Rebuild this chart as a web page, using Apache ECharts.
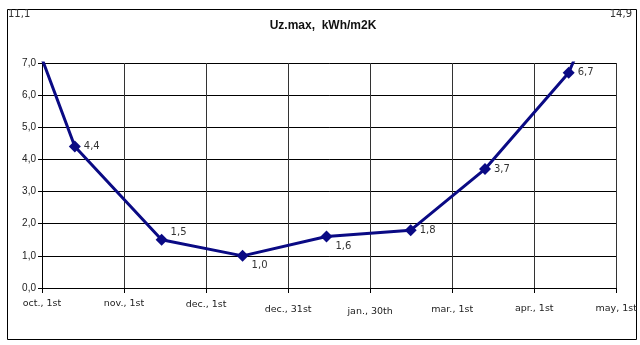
<!DOCTYPE html>
<html>
<head>
<meta charset="utf-8">
<script src="https://cdn.jsdelivr.net/npm/echarts@6/dist/echarts.min.js"></script>
<style>
html,body{margin:0;padding:0;background:#fff;}
#c{width:640px;height:345px;}
</style>
</head>
<body>
<div id="c"></div>
<script>
// Tick labels along the x axis (equally spaced month marks)
var xTickLabels = ['oct., 1st','nov., 1st','dec., 1st','dec., 31st','jan., 30th','mar., 1st','apr., 1st','may, 1st'];
// Point positions, in units of tick intervals from "oct., 1st"
var xPositions = [-0.58, 0.40, 1.458, 2.445, 3.468, 4.494, 5.40, 6.42, 7.8];
// Uz.max values
var uzValues = [11.1, 4.4, 1.5, 1.0, 1.6, 1.8, 3.7, 6.7, 14.9];
var titleText = 'Uz.max,  kWh/m2K';

function fmt(v){ return v.toFixed(1).replace('.', ','); }

// label offsets per point (style only)
var labelOffsets = [[0,0],[0,0],[0,-7],[0,10],[0,10],[0,0],[0,0],[0,0],[0,0]];
// small vertical stagger of x tick labels (style only)
var xLabelDy = [0, 0, 1, 6, 8, 6, 5, 5];

var yMax = 7;
var seriesData = xPositions.map(function(x, i){
  var v = uzValues[i];
  var inside = v <= yMax && x >= 0 && x <= xTickLabels.length - 1;
  return {
    value: [x, v],
    symbol: inside ? 'diamond' : 'none',
    label: {show: inside, offset: labelOffsets[i]}
  };
});

var rich = {};
xLabelDy.forEach(function(d, i){
  rich['r' + i] = {padding: [d, 0, 0, 0], fontFamily: 'DejaVu Sans', fontSize: 9.5, color: '#222'};
});

var chart = echarts.init(document.getElementById('c'), null, {renderer:'canvas'});
var option = {
  animation: false,
  backgroundColor: '#fff',
  title: {
    text: titleText,
    left: 318, top: 15, textAlign: 'center',
    textStyle: {fontFamily: 'Liberation Sans, Arial', fontSize: 12, fontWeight: 'bold', color: '#111'}
  },
  grid: {left: 42, right: 23, top: 63, bottom: 57, containLabel: false},
  xAxis: {
    type: 'value',
    min: 0, max: xTickLabels.length - 1, interval: 1,
    axisLine: {show: true, onZero: false, lineStyle: {color: '#000', width: 1}},
    axisTick: {show: true, length: 5, lineStyle: {color: '#000'}},
    splitLine: {show: true, lineStyle: {color: '#333', width: 1}},
    axisLabel: {
      margin: 11,
      fontFamily: 'DejaVu Sans', fontSize: 9.5, color: '#222',
      rich: rich,
      formatter: function(v){ var i = Math.round(v); return xTickLabels[i] ? '{r' + i + '|' + xTickLabels[i] + '}' : ''; }
    }
  },
  yAxis: {
    type: 'value',
    min: 0, max: yMax, interval: 1,
    axisLine: {show: true, lineStyle: {color: '#000', width: 1}},
    axisTick: {show: true, length: 4, lineStyle: {color: '#000'}},
    splitLine: {show: true, lineStyle: {color: '#000', width: 1}},
    axisLabel: {
      margin: 6,
      fontFamily: 'Liberation Sans, Arial', fontSize: 10, color: '#222',
      formatter: function(v){ return fmt(v); }
    }
  },
  series: [{
    type: 'line',
    data: seriesData,
    clip: true,
    symbolSize: 12,
    lineStyle: {color: '#0a0a84', width: 3},
    itemStyle: {color: '#0a0a84'},
    label: {
      position: 'right', distance: 3,
      fontFamily: 'DejaVu Sans', fontSize: 10, color: '#333',
      formatter: function(p){ return fmt(p.value[1]); }
    },
    z: 5
  }],
  graphic: [
    {type: 'rect', left: 5, top: 7, shape: {width: 629, height: 330},
     style: {fill: 'none', stroke: '#000', lineWidth: 1}, silent: true},
    {type: 'text', left: 8, top: 9,
     style: {text: fmt(uzValues[0]), fontFamily: 'DejaVu Sans', fontSize: 10, fill: '#333'}},
    {type: 'text', right: 8, top: 9,
     style: {text: fmt(uzValues[uzValues.length-1]), fontFamily: 'DejaVu Sans', fontSize: 10, fill: '#333'}}
  ]
};
chart.setOption(option);
</script>
</body>
</html>
